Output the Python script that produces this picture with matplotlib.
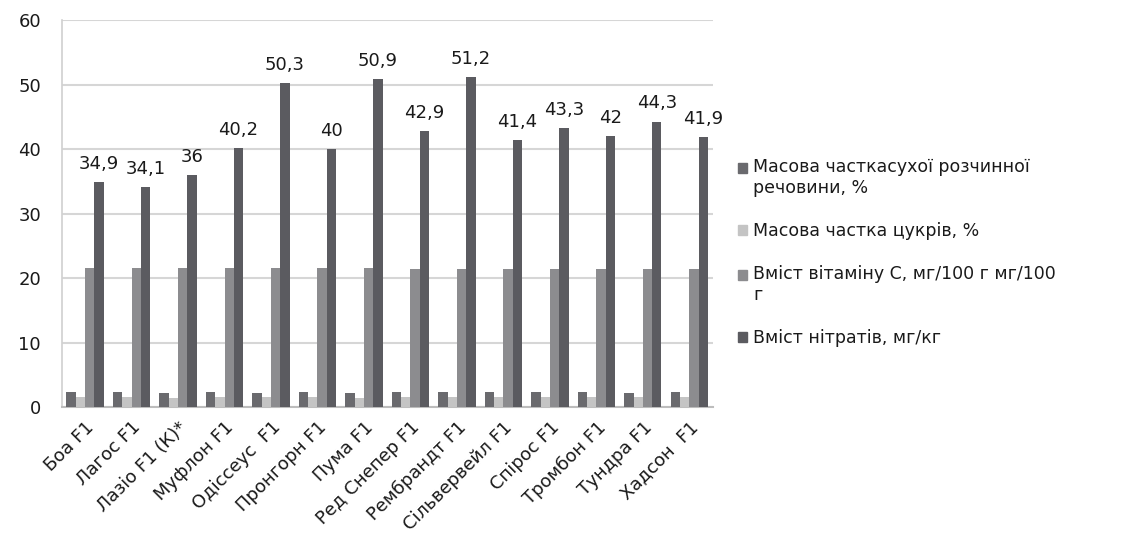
import matplotlib
matplotlib.use("Agg")
import matplotlib.pyplot as plt
import matplotlib.patches as mpatches
from matplotlib.legend_handler import HandlerPatch
import numpy as np

plt.rcParams['font.family'] = ['DejaVu Sans']

categories = ["Боа F1", "Лагос F1", "Лазіо F1 (К)*", "Муфлон F1", "Одіссеус  F1",
              "Пронгорн F1", "Пума F1", "Ред Снепер F1", "Рембрандт F1",
              "Сільвервейл F1", "Спірос F1", "Тромбон F1", "Тундра F1", "Хадсон  F1"]
series_names = ["Масова часткасухої розчинної\nречовини, %",
                "Масова частка цукрів, %",
                "Вміст вітаміну С, мг/100 г мг/100\nг",
                "Вміст нітратів, мг/кг"]
dry_matter = [2.3, 2.3, 2.2, 2.3, 2.2, 2.3, 2.2, 2.3, 2.3, 2.3, 2.3, 2.3, 2.2, 2.4]
sugars = [1.6, 1.6, 1.5, 1.6, 1.6, 1.6, 1.5, 1.6, 1.6, 1.6, 1.6, 1.6, 1.6, 1.6]
vitamin_c = [21.6, 21.6, 21.6, 21.6, 21.6, 21.6, 21.6, 21.5, 21.5, 21.5, 21.5, 21.5, 21.5, 21.5]
nitrates = [34.9, 34.1, 36, 40.2, 50.3, 40, 50.9, 42.9, 51.2, 41.4, 43.3, 42, 44.3, 41.9]
nitrate_labels = ["34,9", "34,1", "36", "40,2", "50,3", "40", "50,9", "42,9", "51,2",
                  "41,4", "43,3", "42", "44,3", "41,9"]
yticks = [0, 10, 20, 30, 40, 50, 60]

colors = ["#6a6a6e", "#c4c4c4", "#8c8c8f", "#5b5b60"]
text_color = "#1a1a1a"
legend_fs = 12.5

fig = plt.figure(figsize=(11.24, 5.33), dpi=100)
ax = fig.add_axes([0.055, 0.236, 0.579, 0.726])

x = np.arange(len(categories))
w = 0.2
data = [dry_matter, sugars, vitamin_c, nitrates]
for i, (vals, c, name) in enumerate(zip(data, colors, series_names)):
    ax.bar(x + (i - 1.5) * w, vals, w, color=c, label=name, zorder=3)

for xi, v, lab in zip(x, nitrates, nitrate_labels):
    ax.annotate(lab, (xi + 1.5 * w, v), xytext=(0, 6.5), textcoords='offset points',
                ha='center', va='bottom', fontsize=13, color=text_color)

ax.set_xlim(-0.5, len(categories) - 0.5)
ax.set_ylim(0, 60)
ax.set_yticks(yticks)
ax.set_yticklabels([str(t) for t in yticks], fontsize=13, color=text_color)
ax.tick_params(axis='y', length=0, pad=15)
ax.set_xticks(x)
ax.set_xticklabels(categories, rotation=45, ha='right', rotation_mode='anchor',
                   fontsize=13, color=text_color)
ax.tick_params(axis='x', length=0, pad=8)
ax.yaxis.grid(True, color='#d6d6d6', linewidth=1.5, zorder=0)
for s in ['top', 'right']:
    ax.spines[s].set_visible(False)
ax.spines['left'].set_color('#d0d0d0')
ax.spines['left'].set_linewidth(1.2)
ax.spines['bottom'].set_color('#bdbdbd')
ax.spines['bottom'].set_linewidth(1.5)


def shifted_patch(shift):
    def f(legend, orig_handle, xdescent, ydescent, width, height, fontsize):
        return mpatches.Rectangle((-xdescent, -ydescent + shift), width, height)
    return f


proxies = [mpatches.Rectangle((0, 0), 1, 1, color=c) for c in colors]
hmap = {}
for p, name in zip(proxies, series_names):
    nlines = name.count("\n")
    hmap[p] = HandlerPatch(patch_func=shifted_patch(0.6 * legend_fs * nlines))

fig.legend(proxies, series_names, handler_map=hmap, loc='center left',
           bbox_to_anchor=(0.657, 0.526), frameon=False, fontsize=legend_fs,
           handlelength=0.5, handleheight=0.5, handletextpad=0.35,
           labelspacing=1.45, borderpad=0, borderaxespad=0, labelcolor=text_color)

fig.savefig("out.png", dpi=100, facecolor='white')
